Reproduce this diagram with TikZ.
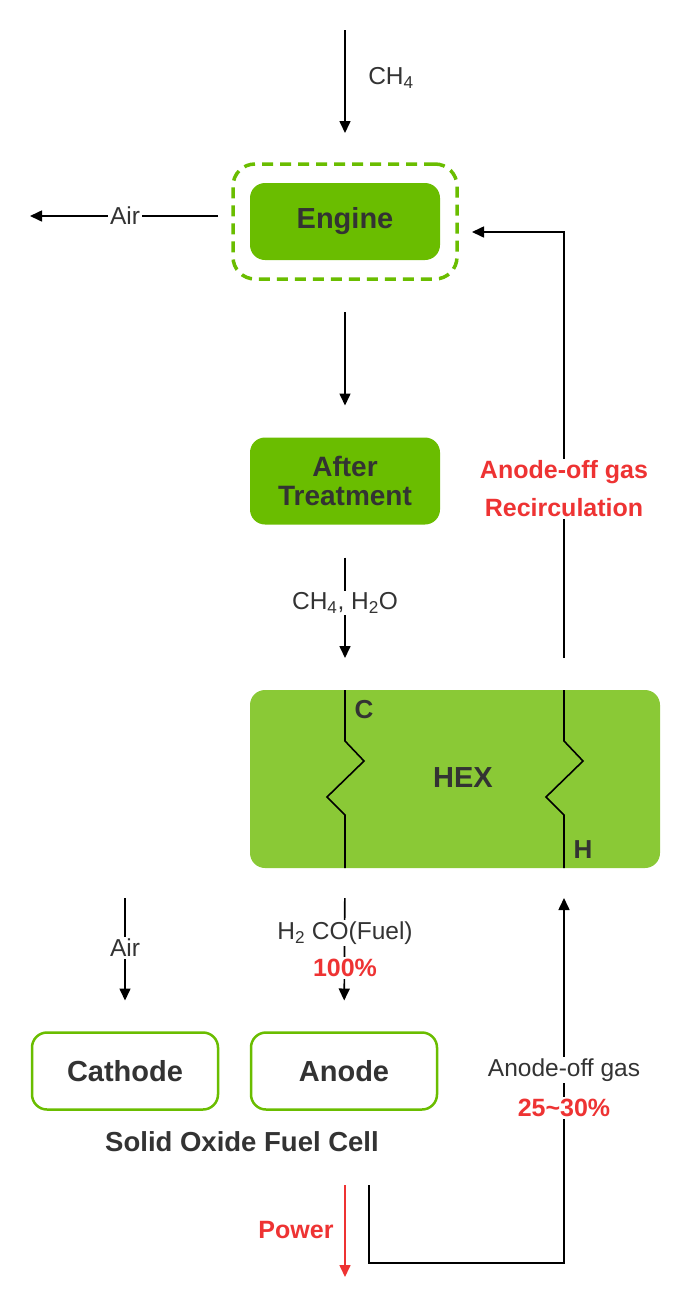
\documentclass[tikz,border=0pt]{standalone}
\usepackage{fontspec}
\setmainfont{Liberation Sans}
\usetikzlibrary{arrows.meta,calc}
\definecolor{egreen}{HTML}{6ABD00}
\definecolor{hgreen}{HTML}{8AC936}
\definecolor{tred}{HTML}{EE3333}
\definecolor{tdark}{HTML}{333333}
\begin{document}
\begin{tikzpicture}[x=1pt,y=-1pt,
  every node/.style={inner sep=0pt,outer sep=0pt,text=tdark},
  boxtext/.style={font=\fontsize{29}{31}\selectfont\bfseries},
  fillbox/.style={rectangle,rounded corners=15pt,fill=egreen,boxtext,align=center},
  cellbox/.style={rectangle,rounded corners=15pt,draw=egreen,line width=2.5pt,fill=white,boxtext,minimum width=186pt,minimum height=77pt},
  lbl/.style={font=\fontsize{24.5}{28}\selectfont,fill=white,inner sep=2pt},
  redlbl/.style={font=\fontsize{25}{28}\selectfont\bfseries,text=tred,fill=white,inner sep=2pt},
  flow/.style={draw=black,line width=1.6pt,-{Triangle[length=12pt,width=11pt]}},
  pline/.style={draw=black,line width=1.6pt},
]
\useasboundingbox (0,0) rectangle (690,1307);

% nodes
\node[fillbox,minimum width=190pt,minimum height=77pt] (engine) at (345,221.5) {Engine};
\node[rectangle,rounded corners=22pt,draw=egreen,line width=3.5pt,dash pattern=on 11pt off 7pt,minimum width=224pt,minimum height=115pt] (dashbox) at (345,221.5) {};
\node[fillbox,minimum width=190pt,minimum height=87pt,font=\fontsize{28}{29}\selectfont\bfseries] (after) at (345,481) {After\\Treatment};
\node[rectangle,rounded corners=15pt,fill=hgreen,minimum width=410pt,minimum height=178pt] (hex) at (455,779) {};
\node[cellbox] (cathode) at (125,1071) {Cathode};
\node[cellbox] (anode) at (344,1071) {Anode};
\node[font=\fontsize{27.5}{30}\selectfont\bfseries] (sofc) at (242,1142) {Solid Oxide Fuel Cell};

% coordinates
\coordinate (ch4top) at (345,30);
\coordinate (airleft) at (30,216);
\coordinate (airstart) at (218,216);
\coordinate (rectop) at (564,658);
\coordinate (recturn) at (564,232);
\coordinate (recend) at (472,232);
\coordinate (caair) at (125,898);
\coordinate (offstart) at (369,1185);
\coordinate (offc1) at (369,1263);
\coordinate (offc2) at (564,1263);
\coordinate (offend) at (564,898);
\coordinate (powtop) at (345,1185);
\coordinate (powbot) at (345,1277);

% CH4 in
\draw[flow,shorten >=31pt] (ch4top) -- (dashbox.north);
\node[font=\fontsize{24.5}{28}\selectfont] (ch4) at (391,78) {CH\textsubscript{4}};

% Air out
\draw[flow] (airstart) -- (airleft);
\node[lbl] (airtop) at (125,216) {Air};

% engine -> after treatment
\draw[flow,shorten <=33pt,shorten >=32pt] (dashbox.south) -- (after.north);

% after treatment -> hex
\draw[flow,shorten <=33pt,shorten >=32pt] (after.south) -- (after.south |- hex.north);
\node[lbl] (ch4h2o) at (345,603) {CH\textsubscript{4}, H\textsubscript{2}O};

% HEX internals
\draw[pline] (345,690) -- (345,741) -- (364,761) -- (327,797) -- (345,815) -- (345,868);
\draw[pline] (564,690) -- (564,741) -- (583,761) -- (546,797) -- (564,815) -- (564,868);
\node[boxtext] (hexlbl) at (463,778) {HEX};
\node[font=\fontsize{26}{28}\selectfont\bfseries] (clbl) at (364,710) {C};
\node[font=\fontsize{26}{28}\selectfont\bfseries] (hlbl) at (583,850) {H};

% recirculation
\draw[pline,-{Triangle[length=12pt,width=11pt]}] (rectop) -- (recturn) -- (recend);
\node[redlbl,align=center,font=\fontsize{25}{38}\selectfont\bfseries] (recirc) at (564,489) {Anode-off gas\\Recirculation};

% hex -> anode
\draw[flow,shorten <=30pt,shorten >=32pt] (hex.south -| anode.north) ++(1,0) -- (anode.north);
\node[lbl] (fuel) at (345,933) {H\textsubscript{2} CO(Fuel)};
\node[redlbl] (pct100) at (345,968) {100\%};

% air -> cathode
\draw[flow,shorten >=32pt] (caair) -- (cathode.north);
\node[lbl] (airbot) at (125,948) {Air};

% anode-off gas
\draw[pline,-{Triangle[length=12pt,width=11pt]}] (offstart) -- (offc1) -- (offc2) -- (offend);
\node[lbl] (offlbl) at (564,1070) {Anode-off gas};
\node[redlbl] (pct25) at (564,1108) {25\textasciitilde30\%};

% power
\draw[draw=tred,line width=1.6pt,-{Triangle[length=12pt,width=11pt]}] (powtop) -- (powbot);
\node[font=\fontsize{25}{28}\selectfont\bfseries,text=tred] (power) at (296,1230) {Power};
\end{tikzpicture}
\end{document}
